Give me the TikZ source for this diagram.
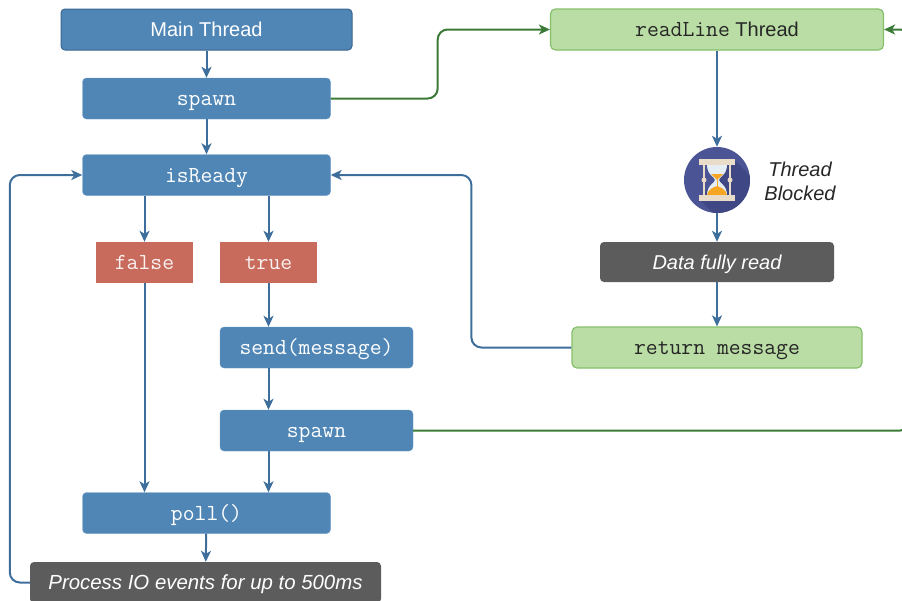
\documentclass[tikz,border=0pt]{standalone}
\usepackage{fontspec}
\setmainfont{Liberation Sans}
\usetikzlibrary{arrows.meta}
\definecolor{flowblue}{HTML}{4F86B6}
\definecolor{flowedge}{HTML}{6E9DC8}
\definecolor{headedge}{HTML}{3A6690}
\definecolor{linkblue}{HTML}{3E6E9B}
\definecolor{testred}{HTML}{C86B5C}
\definecolor{notegray}{HTML}{5C5C5C}
\definecolor{readgreen}{HTML}{B9DDA4}
\definecolor{readedge}{HTML}{85BF6B}
\definecolor{spawngreen}{HTML}{3B7A37}
\definecolor{clockblue}{HTML}{4B5596}
\definecolor{clockshade}{HTML}{3F4784}
\definecolor{sand}{HTML}{F6A623}
\definecolor{frame}{HTML}{E9DDC9}
\definecolor{glass}{HTML}{E6EEF5}
\def\bigfont{\fontsize{20}{24}\selectfont}
\def\codefont{\fontsize{23}{24}\selectfont\ttfamily}
\begin{document}
\begin{tikzpicture}[x=1pt,y=-1pt,
    opbox/.style={draw=flowedge,fill=flowblue,text=white,rounded corners=4pt,
      minimum height=41pt,inner sep=0pt,text height=16pt,text depth=2pt,font=\codefont},
    testbox/.style={fill=testred,text=white!90!testred,minimum width=97pt,
      minimum height=41pt,inner sep=0pt,text height=16pt,text depth=2pt,font=\codefont},
    notebox/.style={fill=notegray,text=white,rounded corners=4pt,
      minimum height=40pt,inner sep=0pt,text height=16pt,text depth=2pt,font=\bigfont\itshape},
    readbox/.style={draw=readedge,line width=1.2pt,fill=readgreen,text=black!85,
      rounded corners=5pt,minimum height=41pt,inner sep=0pt,text height=16pt,text depth=2pt,font=\bigfont},
    flow/.style={draw=linkblue,line width=2pt,-{Stealth[length=11pt,width=10pt,inset=3pt]}},
    spawnlink/.style={draw=spawngreen,line width=2pt,rounded corners=10pt,
      -{Stealth[length=11pt,width=10pt,inset=3pt]}}]
  \useasboundingbox (0,0) rectangle (902,600);

  % main thread side
  \node[opbox,draw=headedge,line width=1pt,minimum width=291pt,font=\bigfont] (main) at (206.5,29.5) {Main Thread};
  \node[opbox,minimum width=248pt] (spawnA) at (206.5,98.5) {spawn};
  \node[opbox,minimum width=248pt] (ready) at (206.5,175) {isReady};
  \node[testbox] (no) at (144.5,262.5) {false};
  \node[testbox] (yes) at (268.5,262.5) {true};
  \node[opbox,minimum width=193pt] (send) at (316.5,347.5) {send(message)};
  \node[opbox,minimum width=193pt] (spawnB) at (316.5,430.5) {spawn};
  \node[opbox,minimum width=248pt] (poll) at (206.5,513) {poll()};
  \node[notebox,minimum width=351pt,minimum height=41pt,font=\fontsize{20.4}{24}\selectfont\itshape] (events) at (205.5,582.5) {Process IO events for up to 500ms};

  % readLine thread side
  \node[readbox,minimum width=333pt] (reader) at (717,29.5) {{\codefont readLine} Thread};
  \node[circle,fill=clockblue,minimum size=66pt,inner sep=0pt] (blocked) at (717,180) {};
  \node[font=\bigfont\itshape,align=center,text=black!85] (blockedlabel) at (800,181) {Thread\\Blocked};
  \node[notebox,minimum width=234pt] (fullread) at (717,262) {Data fully read};
  \node[readbox,minimum width=290pt,font=\codefont] (reply) at (717,347.5) {return message};

  % hourglass
  \begin{scope}[shift={(blocked.center)}]
    \begin{scope}
      \clip (0,0) circle (33);
      \fill[clockshade] (16,-21) -- (60,23) -- (23,60) -- (-18,19) -- cycle;
    \end{scope}
    \fill[glass] (-10,-15) .. controls (-10,-5) and (-2,-3) .. (-2,0)
      .. controls (-2,3) and (-10,5) .. (-10,15) -- (10,15)
      .. controls (10,5) and (2,3) .. (2,0)
      .. controls (2,-3) and (10,-5) .. (10,-15) -- cycle;
    \fill[sand] (-6,-6) -- (6,-6) -- (0,0) -- cycle;
    \fill[sand] (-10,15) .. controls (-9,9) and (-3,7) .. (0,6)
      .. controls (3,7) and (9,9) .. (10,15) -- cycle;
    \draw[sand,line width=1pt] (0,0) -- (0,6);
    \fill[frame] (-18,-21) rectangle (18,-15);
    \fill[frame] (-18,15) rectangle (18,21);
    \draw[frame,line width=1.5pt] (-13,-15) -- (-13,15) (13,-15) -- (13,15);
    \fill[frame] (-13,0) circle (2.5) (13,0) circle (2.5);
  \end{scope}

  % connectors
  \draw[flow] (main) -- (spawnA);
  \draw[flow] (spawnA) -- (ready);
  \draw[flow] (ready.south -| no) -- (no);
  \draw[flow] (ready.south -| yes) -- (yes);
  \draw[flow] (no) -- (no |- poll.north);
  \draw[flow] (yes) -- (yes |- send.north);
  \draw[flow] (send.south -| yes) -- (yes |- spawnB.north);
  \draw[flow] (spawnB.south -| yes) -- (yes |- poll.north);
  \draw[flow] (poll) -- (events);
  \draw[flow,rounded corners=10pt] (events.west) -- ++(-20,0) |- (ready.west);
  \draw[flow,rounded corners=10pt] (reply.west) -- ++(-100,0) |- (ready.east);
  \draw[flow] (reader) -- (blocked);
  \draw[flow] (blocked) -- (fullread);
  \draw[flow] (fullread) -- (reply);
  \draw[spawnlink] (spawnA.east) -- ++(107,0) |- (reader.west);
  \draw[spawnlink] (spawnB.east) -- ++(497,0) |- (reader.east);
\end{tikzpicture}
\end{document}
